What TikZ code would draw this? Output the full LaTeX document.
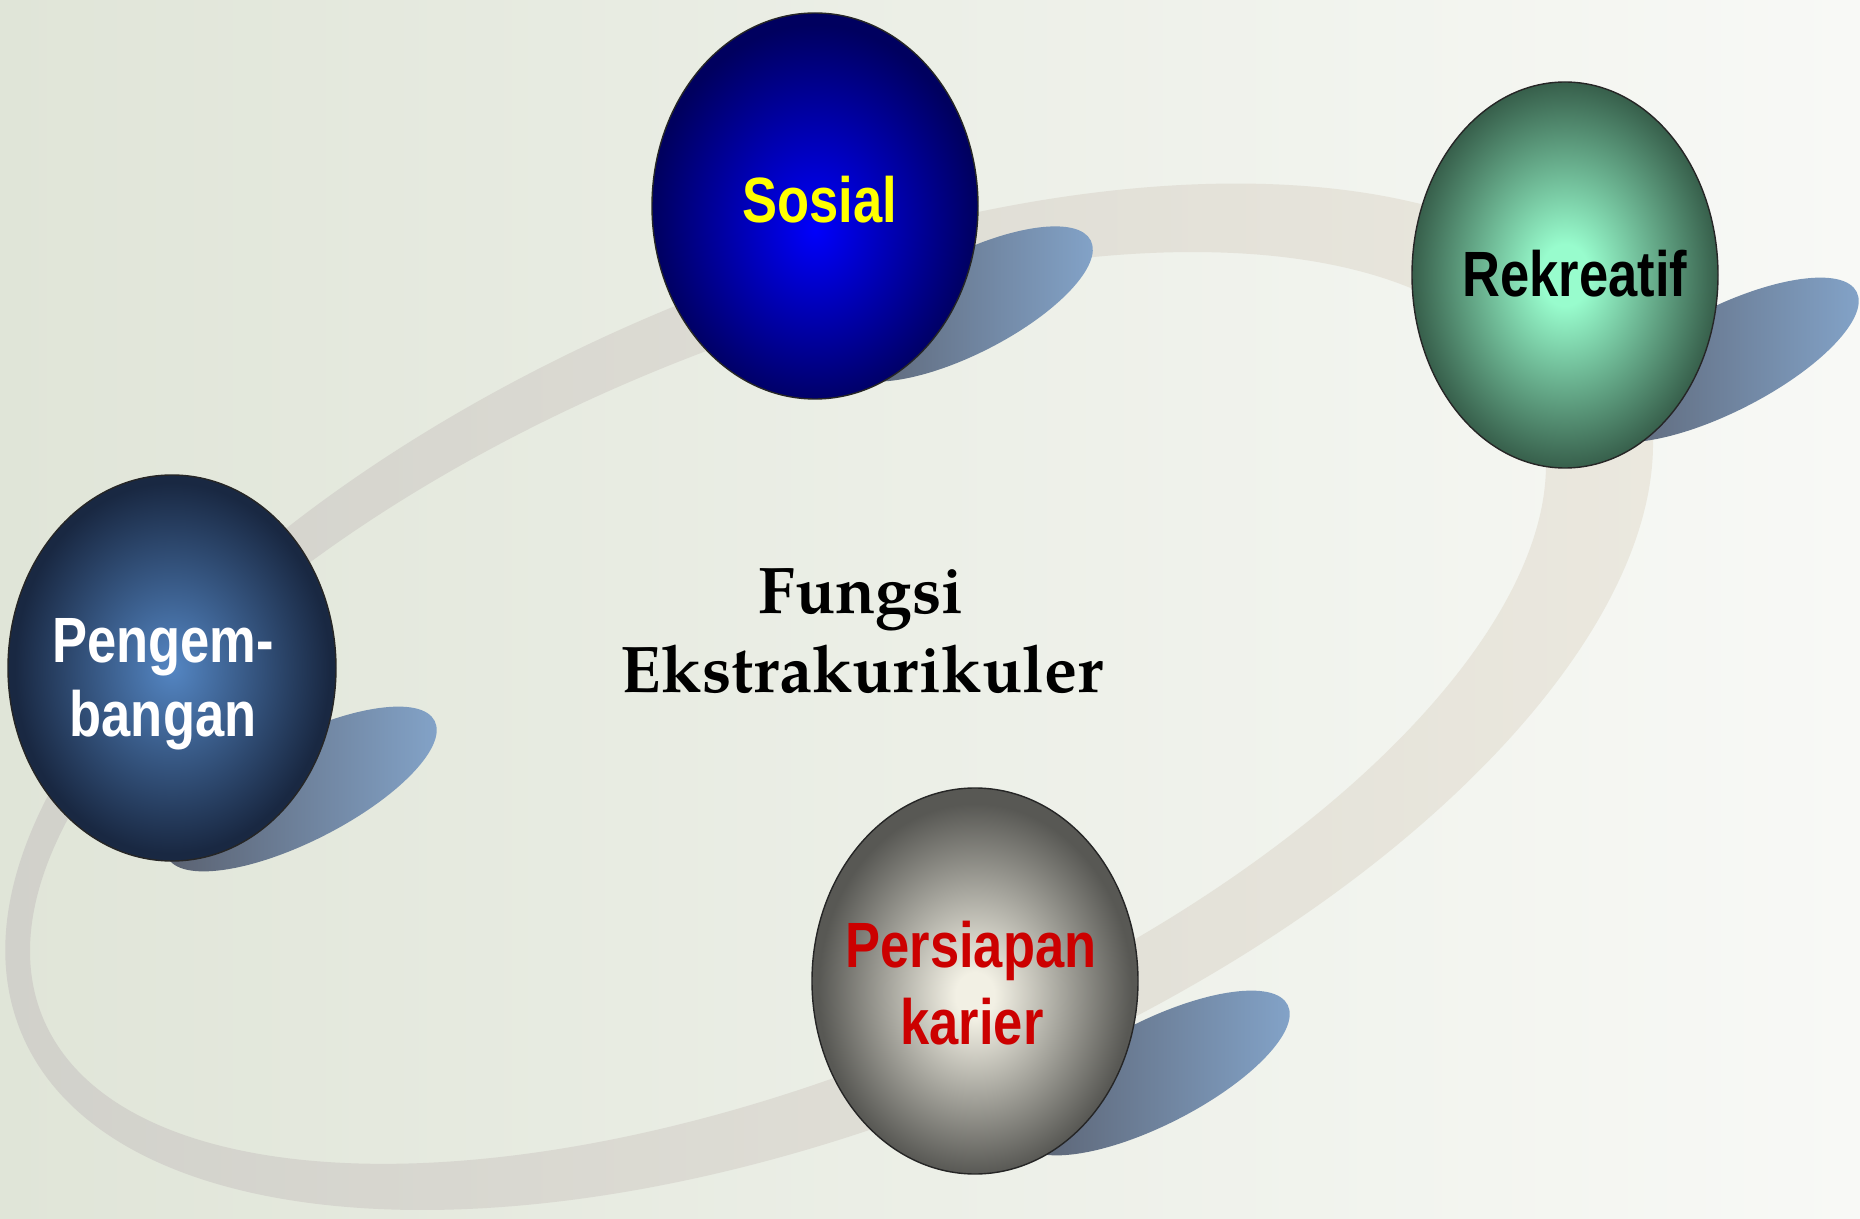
\documentclass[tikz,border=0pt]{standalone}
\usepackage{fontspec}
\newfontfamily\ballfont[FakeStretch=0.82]{Liberation Sans}
\newfontfamily\titlefont{texgyrepagella}[Extension=.otf,UprightFont=*-regular,BoldFont=*-bold]
\usetikzlibrary{shapes.geometric}
\definecolor{bgL}{RGB}{224,229,216}
\definecolor{bgM}{RGB}{238,241,233}
\definecolor{bgR}{RGB}{248,249,246}
\definecolor{ringL}{RGB}{208,208,202}
\definecolor{ringR}{RGB}{236,233,223}
\definecolor{shadowL}{RGB}{88,94,108}
\definecolor{shadowR}{RGB}{132,165,203}
\definecolor{sosIn}{RGB}{0,0,252}
\definecolor{sosOut}{RGB}{0,0,95}
\definecolor{rekIn}{RGB}{152,252,205}
\definecolor{rekOut}{RGB}{55,95,75}
\definecolor{pengIn}{RGB}{84,134,195}
\definecolor{pengOut}{RGB}{25,40,66}
\definecolor{persIn}{RGB}{242,240,228}
\definecolor{persOut}{RGB}{88,88,84}
\definecolor{txtYellow}{RGB}{255,255,0}
\definecolor{txtRed}{RGB}{204,0,0}
\pgfdeclareradialshading{sosShade}{\pgfpoint{0bp}{-3bp}}{color(0bp)=(sosIn); color(25bp)=(sosOut); color(50bp)=(sosOut)}
\pgfdeclareradialshading{rekShade}{\pgfpoint{0bp}{0bp}}{color(0bp)=(rekIn); color(4bp)=(rekIn); color(25bp)=(rekOut); color(50bp)=(rekOut)}
\pgfdeclareradialshading{pengShade}{\pgfpoint{0bp}{0bp}}{color(0bp)=(pengIn); color(24bp)=(pengOut); color(50bp)=(pengOut)}
\pgfdeclareradialshading{persShade}{\pgfpoint{0bp}{-2bp}}{color(0bp)=(persIn); color(3bp)=(persIn); color(24bp)=(persOut); color(50bp)=(persOut)}
\begin{document}
\begin{tikzpicture}[x=0.5pt,y=-0.5pt,
  ball/.style={ellipse, inner sep=0pt, draw=black!85, line width=0.7pt},
  balltxt/.style={font=\ballfont\bfseries\fontsize{32}{38}\selectfont, anchor=base, inner sep=0pt},
  titletxt/.style={font=\titlefont\bfseries\fontsize{33}{40}\selectfont, anchor=base, inner sep=0pt, text=black},
  shadowsty/.style={left color=shadowL, right color=shadowR},
]
\useasboundingbox (0,0) rectangle (1860,1219);
% background
\shade[left color=bgL, middle color=bgM, right color=bgR] (0,0) rectangle (1860,1219);
% ring
\begin{scope}[rotate around={22.6:(828,694)}]
\shade[left color=ringL, right color=ringR, even odd rule]
  (828,697) ellipse [x radius=875, y radius=420]
  (785.7,691.5) ellipse [x radius=807, y radius=362];
\end{scope}
% shadows
\shade[shadowsty, rotate around={27:(966,304)}] (966,304) ellipse [x radius=140, y radius=50];
\shade[shadowsty, rotate around={27:(1723,360)}] (1723,360) ellipse [x radius=150, y radius=52];
\shade[shadowsty, rotate around={27:(301,789)}] (301,789) ellipse [x radius=150, y radius=52];
\shade[shadowsty, rotate around={27:(1154,1073)}] (1154,1073) ellipse [x radius=150, y radius=52];
% balls
\node[ball, shading=sosShade, minimum width=163pt, minimum height=193pt] (sosial) at (815,206) {};
\node[ball, shading=rekShade, minimum width=153pt, minimum height=193pt] (rekreatif) at (1565,275) {};
\node[ball, shading=pengShade, minimum width=164pt, minimum height=193pt] (pengembangan) at (172,668) {};
\node[ball, shading=persShade, minimum width=163pt, minimum height=193pt] (persiapan) at (975,981) {};
% texts
\node[balltxt, text=txtYellow] (sosialT) at (820,223) {Sosial};
\node[balltxt, text=black] (rekreatifT) at (1575,297) {Rekreatif};
\node[balltxt, text=white] (pengT1) at (163,662) {Pengem-};
\node[balltxt, text=white] (pengT2) at (163,737) {bangan};
\node[balltxt, text=txtRed] (persT1) at (971,967) {Persiapan};
\node[balltxt, text=txtRed] (persT2) at (972,1044) {karier};
\node[titletxt] (title1) at (861,614) {Fungsi};
\node[titletxt] (title2) at (862,693) {Ekstrakurikuler};
\end{tikzpicture}
\end{document}
